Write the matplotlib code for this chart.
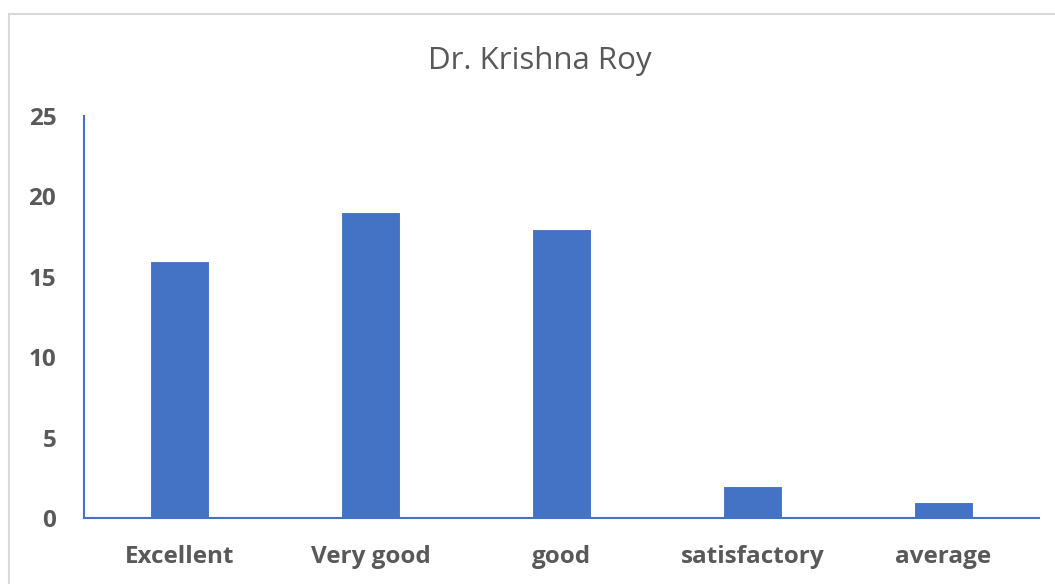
import matplotlib

matplotlib.use("Agg")
import matplotlib.pyplot as plt
from matplotlib.patches import Rectangle

# ratings for Dr. Krishna Roy
categories = ["Excellent", "Very good", "good", "satisfactory", "average"]
counts = [16, 19, 18, 2, 1]
yticks = [0, 5, 10, 15, 20, 25]

BLUE = "#4472C4"
TEXT = "#595959"

plt.rcParams["font.family"] = ["Open Sans", "DejaVu Sans"]

fig = plt.figure(figsize=(10.55, 5.84), dpi=100)
W, H = 1055, 584

# light grey chart-area border (cut off at right and bottom)
fig.patches.append(Rectangle((9 / W, -0.1), 1.2, 1 - 14 / H + 0.1,
                             transform=fig.transFigure, fill=False,
                             edgecolor="#D9D9D9", linewidth=1.5))

ax = fig.add_axes([84 / W, 1 - 518 / H, (1039 - 84) / W, (518 - 116) / H])
x = range(len(categories))
ax.bar(x, counts, width=0.31, color=BLUE, edgecolor="white", linewidth=0.8)

ax.set_xlim(-0.5, len(categories) - 0.5)
ax.set_ylim(0, 25)
ax.set_xticks(list(x))
ax.set_xticklabels(categories, fontweight="bold")
ax.set_yticks(yticks)
ax.set_yticklabels([str(v) for v in yticks], fontweight="bold")

for side in ["top", "right"]:
    ax.spines[side].set_visible(False)
for side in ["left", "bottom"]:
    ax.spines[side].set_color(BLUE)
    ax.spines[side].set_linewidth(1.5)

ax.tick_params(length=0, labelsize=17.5, labelcolor=TEXT)
ax.tick_params(axis="x", pad=19.5)
ax.tick_params(axis="y", pad=20)

fig.text(540 / W, 1 - 61 / H, "Dr. Krishna Roy", ha="center", va="center",
         fontsize=22.5, color=TEXT)

fig.savefig("out.png", dpi=100)
